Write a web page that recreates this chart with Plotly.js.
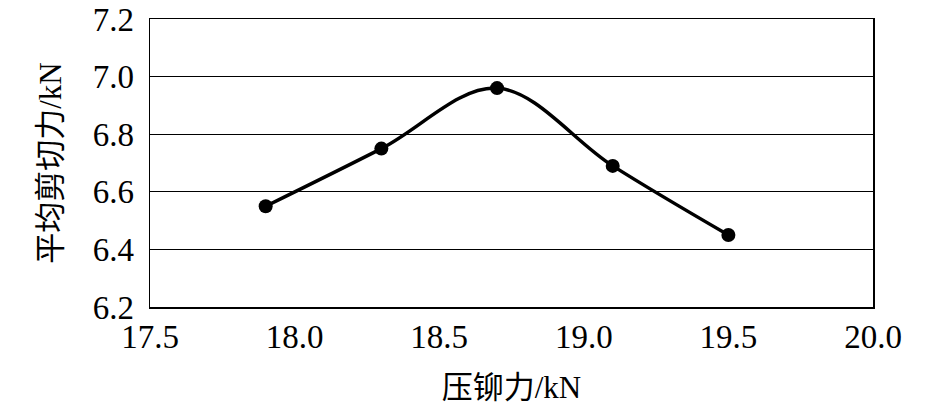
<!DOCTYPE html>
<html>
<head>
<meta charset="utf-8">
<script src="https://cdn.plot.ly/plotly-3.0.1.min.js"></script>
<style>html,body{margin:0;padding:0;background:#fff;}#chart{width:945px;height:413px;}</style>
</head>
<body>
<div id="chart"></div>
<script>
const pressForce = [17.9, 18.3, 18.7, 19.1, 19.5];
const shearForce = [6.55, 6.75, 6.96, 6.69, 6.45];
const xTickVals = [17.5, 18.0, 18.5, 19.0, 19.5, 20.0];
const yTickVals = [6.2, 6.4, 6.6, 6.8, 7.0, 7.2];
const xTitle = '压铆力/kN';
const yTitle = '平均剪切力/kN';

const serif = 'Liberation Serif';
const cjk = 'Liberation Serif, Noto Sans CJK SC';

const trace = {
  x: pressForce,
  y: shearForce,
  type: 'scatter',
  mode: 'lines+markers',
  line: {color: '#000', width: 3.5, shape: 'spline', smoothing: 1},
  marker: {color: '#000', size: 14, symbol: 'circle'},
  hoverinfo: 'x+y'
};

const layout = {
  width: 945,
  height: 413,
  margin: {l: 150, r: 72, t: 19, b: 106},
  paper_bgcolor: '#fff',
  plot_bgcolor: '#fff',
  showlegend: false,
  font: {family: serif, color: '#000', size: 31},
  xaxis: {
    range: [17.5, 20.0],
    tickvals: xTickVals,
    ticktext: xTickVals.map(v => v.toFixed(1)),
    showgrid: false,
    zeroline: false,
    showline: true,
    linecolor: '#000',
    linewidth: 1.5,
    mirror: true,
    ticks: '',
    ticklabelstandoff: 0,
    tickfont: {family: serif, size: 33, color: '#000'},
    title: {text: xTitle, font: {family: cjk, size: 31, color: '#000'}, standoff: 22}
  },
  yaxis: {
    range: [6.2, 7.2],
    tickvals: yTickVals,
    ticktext: yTickVals.map(v => v.toFixed(1)),
    showgrid: true,
    gridcolor: '#000',
    gridwidth: 1.2,
    zeroline: false,
    showline: true,
    linecolor: '#000',
    linewidth: 1.5,
    mirror: true,
    ticks: '',
    ticklabelstandoff: 8,
    tickfont: {family: serif, size: 33, color: '#000'},
    title: {text: yTitle, font: {family: cjk, size: 31, color: '#000'}, standoff: 22}
  }
};

Plotly.newPlot('chart', [trace], layout, {displayModeBar: false, staticPlot: true});
</script>
</body>
</html>
